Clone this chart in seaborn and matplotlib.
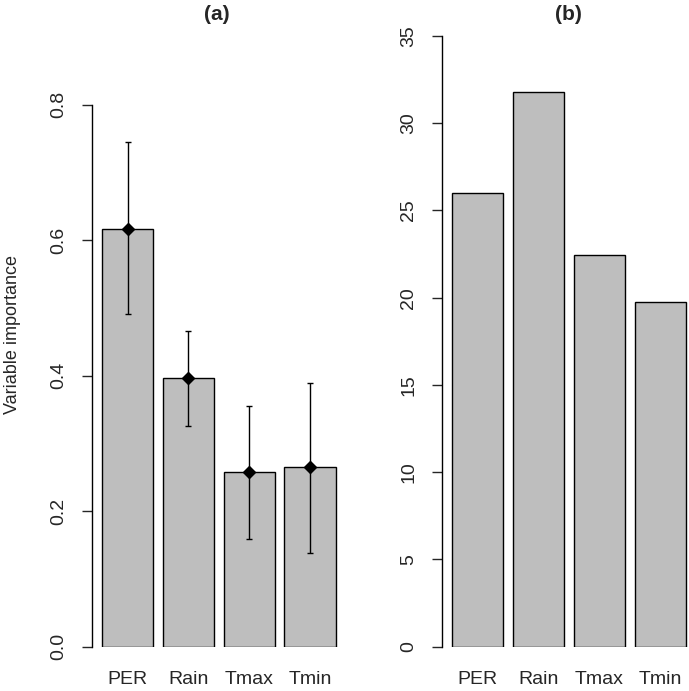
import numpy as np
import pandas as pd
import matplotlib
matplotlib.use('Agg')
import matplotlib.pyplot as plt
import seaborn as sns

variables = ['PER', 'Rain', 'Tmax', 'Tmin']
importance = [0.617, 0.396, 0.258, 0.265]
imp_lower = [0.491, 0.326, 0.159, 0.139]
imp_upper = [0.745, 0.466, 0.355, 0.389]
panel_b = [26.0, 31.77, 22.42, 19.78]

left_ticks = [0.0, 0.2, 0.4, 0.6, 0.8]
left_ticklabels = ['0.0', '0.2', '0.4', '0.6', '0.8']
right_ticks = [0, 5, 10, 15, 20, 25, 30, 35]

sns.set_style('white')
plt.rcParams['font.family'] = ['Liberation Sans', 'DejaVu Sans']

W, H = 689, 691
fig = plt.figure(figsize=(W / 100, H / 100), dpi=100)

bar_gray = '#BEBEBE'
text_col = '#262626'

def px_axes(left, right, bottom, top):
    return fig.add_axes([left / W, 1 - bottom / H, (right - left) / W, (bottom - top) / H])

def style_axis(ax, ticks, labels, top_val):
    for s in ['top', 'right', 'bottom']:
        ax.spines[s].set_visible(False)
    ax.spines['left'].set_bounds(0, top_val)
    ax.spines['left'].set_linewidth(1.0)
    ax.spines['left'].set_color('black')
    ax.set_yticks(ticks)
    ax.set_yticklabels(labels, rotation=90, va='center')
    ax.tick_params(axis='y', length=7.2, width=1.0, pad=10.8, labelsize=14, left=True)
    ax.tick_params(axis='x', length=0, pad=17.5, labelsize=14)
    ax.set_xlabel('')
    for lab in ax.get_xticklabels() + ax.get_yticklabels():
        lab.set_color(text_col)

# panel (a)
df_a = pd.DataFrame({'variable': variables, 'importance': importance,
                     'lo': imp_lower, 'hi': imp_upper})
ax1 = px_axes(92, 345, 646.7, 30)
sns.barplot(data=df_a, x='variable', y='importance', color=bar_gray, saturation=1,
            edgecolor='black', linewidth=1.0, width=0.847, ax=ax1)
xpos = np.arange(len(variables))
err = [df_a['importance'] - df_a['lo'], df_a['hi'] - df_a['importance']]
ax1.errorbar(xpos, df_a['importance'], yerr=err, fmt='D', color='black',
             markersize=6, elinewidth=1.0, capsize=2.5, capthick=1.0)
ax1.set_xlim(-0.587, 3.574)
ax1.set_ylim(0, 616.7 / 677.5)
style_axis(ax1, left_ticks, left_ticklabels, 0.8)
ax1.set_ylabel('Variable importance', fontsize=13, color=text_col, va='center')
ax1.yaxis.set_label_coords(-0.316, 0.507)

# panel (b)
df_b = pd.DataFrame({'variable': variables, 'value': panel_b})
ax2 = px_axes(442.3, 689, 646.7, 30)
sns.barplot(data=df_b, x='variable', y='value', color=bar_gray, saturation=1,
            edgecolor='black', linewidth=1.0, width=0.847, ax=ax2)
ax2.set_xlim(-0.577, 3.467)
ax2.set_ylim(0, 616.7 / 17.449)
style_axis(ax2, right_ticks, [str(t) for t in right_ticks], 35)
ax2.set_ylabel('')

fig.text(217 / W, 1 - 15 / H, '(a)', fontsize=15, fontweight='bold', ha='center', va='center')
fig.text(568 / W, 1 - 15 / H, '(b)', fontsize=15, fontweight='bold', ha='center', va='center')

fig.savefig('out.png', dpi=100)
